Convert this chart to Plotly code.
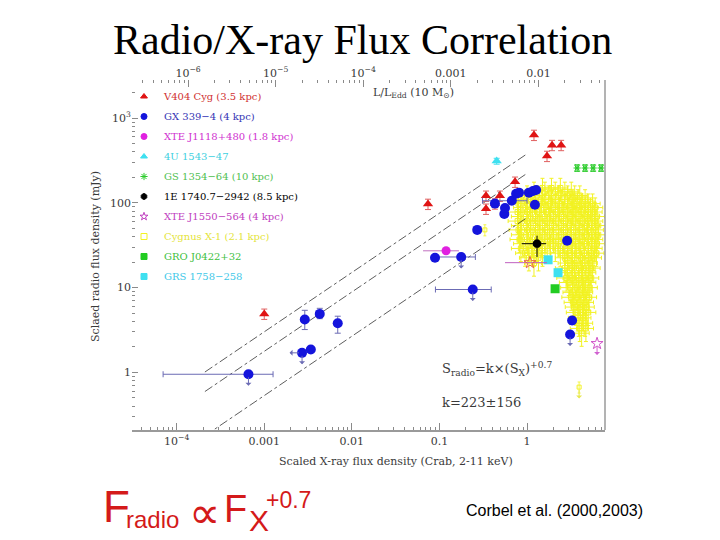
import numpy as np
import plotly.graph_objects as go

# ---------------- data ----------------
# V404 Cyg (red triangles)
v404_x = [1.0e-3, 0.074, 0.34, 0.49, 0.43, 0.34, 0.73, 1.2, 1.93, 2.45, 1.69]
v404_y = [4.9, 97, 121, 121, 98, 85, 177, 632, 480, 480, 357]

# GX 339-4 (blue circles)
gx_x = [6.6e-4, 2.9e-3, 4.3e-3, 6.9e-3, 2.7e-3, 3.4e-3, 0.089, 0.177, 0.24, 0.27,
        0.43, 0.55, 0.56, 0.67, 0.75, 0.81, 1.05, 1.17, 1.27, 1.23, 2.87, 3.27, 3.1]
gx_y = [0.95, 4.2, 4.9, 3.8, 1.7, 1.86, 22.5, 23, 9.5, 48,
        98, 74, 87, 106, 128, 132, 132, 138, 142, 95, 35.7, 4.1, 2.8]
gx_xerr_plus = [6.0e-4, 0, 0, 0, 0, 0, 0, 0.08, 0.15, 0,
                0, 0, 0, 0.33, 0, 0, 0, 0, 0, 0, 0, 0, 0]
gx_xerr_minus = [5.9e-4, 0, 0, 0, 0, 0, 0, 0.088, 0.15, 0,
                 0, 0, 0, 0.36, 0, 0, 0, 0, 0, 0, 0, 0, 0]
gx_yerr_plus = [0, 1.2, 0.8, 0.8, 0, 0, 0, 0, 0, 0,
                0, 0, 0, 0, 0, 0, 0, 0, 0, 0, 0, 0.4, 0]
gx_yerr_minus = [0, 1.0, 0.6, 0.9, 0, 0, 0, 0, 0, 0,
                 0, 0, 0, 0, 0, 0, 0, 0, 0, 0, 0, 0.4, 0]
gx_upper = [1, 0, 0, 0, 1, 0, 0, 1, 1, 0, 0, 0, 0, 0, 0, 0, 0, 0, 0, 0, 0, 0, 1]
gx_left = [0, 0, 0, 0, 1, 0, 0, 0, 0, 0, 0, 0, 0, 0, 0, 0, 0, 0, 0, 0, 0, 0, 0]

# XTE J1118+480
j1118_x = [0.119]
j1118_y = [27.2]
j1118_xerr_plus = [0.048]
j1118_xerr_minus = [0.054]

# 4U 1543-47
u1543_x = [0.45]
u1543_y = [311]

# GS 1354-64
gs_x = [3.73, 4.6, 5.68, 7.0]
gs_y = [258, 258, 258, 258]

# 1E 1740.7-2942
e1740_x = [1.30]
e1740_y = [33]
e1740_xerr_plus = [0.35]
e1740_xerr_minus = [0.43]
e1740_yerr_plus = [8]
e1740_yerr_minus = [10]

# XTE J1550-564
j1550_x = [1.08, 6.3]
j1550_y = [19.7, 2.19]
j1550_xerr_plus = [0.61, 0]
j1550_xerr_minus = [0.52, 0]
j1550_upper = [0, 1]

# Cygnus X-1 (cloud of measurements, read row by row)
cyg_x = [1.5, 1.9, 2.4,
         1.2, 1.6, 2.1, 2.7, 3.2,
         1.0, 1.3, 1.75, 2.3, 2.9, 3.5, 4.0,
         0.85, 1.1, 1.45, 1.9, 2.5, 3.1, 3.8, 4.6,
         0.8, 1.0, 1.25, 1.6, 2.1, 2.7, 3.4, 4.2, 5.0, 5.6,
         0.9, 1.15, 1.45, 1.85, 2.35, 3.0, 3.7, 4.6, 5.3, 6.0,
         0.78, 1.0, 1.3, 1.65, 2.1, 2.6, 3.3, 4.1, 5.0, 5.9,
         0.85, 1.1, 1.4, 1.8, 2.3, 2.9, 3.6, 4.5, 5.5, 6.3,
         0.78, 1.0, 1.25, 1.6, 2.0, 2.6, 3.2, 4.0, 4.9, 6.0,
         0.85, 1.1, 1.4, 1.8, 2.3, 2.9, 3.6, 4.5, 5.5, 6.5,
         0.8, 1.0, 1.25, 1.6, 2.0, 2.6, 3.2, 4.0, 5.0, 6.1,
         0.85, 1.1, 1.4, 1.8, 2.3, 2.9, 3.6, 4.5, 5.5, 6.5,
         0.82, 1.0, 1.3, 1.6, 2.0, 2.6, 3.2, 4.0, 5.0, 6.0,
         0.9, 1.15, 1.45, 1.85, 2.3, 2.9, 3.6, 4.5, 5.5, 6.3,
         0.85, 1.05, 1.3, 1.7, 2.1, 2.7, 3.3, 4.1, 5.0, 5.9,
         0.95, 1.2, 1.5, 2.4, 3.0, 3.7, 4.5, 5.4, 6.2,
         1.05, 1.35, 2.7, 3.3, 4.1, 5.0, 5.8,
         1.2, 2.9, 3.5, 4.3, 5.2,
         2.7, 3.2, 3.9, 4.7, 5.6,
         2.9, 3.5, 4.2, 5.0,
         2.8, 3.3, 3.9, 4.6, 5.4,
         3.0, 3.6, 4.3, 5.0,
         3.1, 3.7, 4.4, 5.2,
         3.3, 3.9, 4.6,
         3.2, 3.8, 4.5, 5.1,
         3.4, 4.0, 4.7,
         3.5, 4.1, 4.8,
         3.6, 4.3, 5.0,
         3.8, 4.4,
         3.9, 4.6,
         4.0, 4.7,
         4.2]
cyg_y = [150, 150, 150,
         135, 135, 135, 135, 135,
         122, 122, 122, 122, 122, 122, 122,
         110, 110, 110, 110, 110, 110, 110, 110,
         98, 98, 98, 98, 98, 98, 98, 98, 98, 98,
         88, 88, 88, 88, 88, 88, 88, 88, 88, 88,
         78, 78, 78, 78, 78, 78, 78, 78, 78, 78,
         69, 69, 69, 69, 69, 69, 69, 69, 69, 69,
         61, 61, 61, 61, 61, 61, 61, 61, 61, 61,
         54, 54, 54, 54, 54, 54, 54, 54, 54, 54,
         48, 48, 48, 48, 48, 48, 48, 48, 48, 48,
         42, 42, 42, 42, 42, 42, 42, 42, 42, 42,
         37, 37, 37, 37, 37, 37, 37, 37, 37, 37,
         33, 33, 33, 33, 33, 33, 33, 33, 33, 33,
         29, 29, 29, 29, 29, 29, 29, 29, 29, 29,
         25.5, 25.5, 25.5, 25.5, 25.5, 25.5, 25.5, 25.5, 25.5,
         22.5, 22.5, 22.5, 22.5, 22.5, 22.5, 22.5,
         19.5, 19.5, 19.5, 19.5, 19.5,
         17, 17, 17, 17, 17,
         15, 15, 15, 15,
         13, 13, 13, 13, 13,
         11.5, 11.5, 11.5, 11.5,
         10, 10, 10, 10,
         8.8, 8.8, 8.8,
         7.7, 7.7, 7.7, 7.7,
         6.7, 6.7, 6.7,
         5.9, 5.9, 5.9,
         5.1, 5.1, 5.1,
         4.4, 4.4,
         3.8, 3.8,
         3.3, 3.3,
         2.9]
cyg_extra_x = [0.33, 3.93]
cyg_extra_y = [48, 0.67]
cyg_extra_upper = [0, 1]

# GRO J0422+32
gro_x = [2.09]
gro_y = [9.7]

# GRS 1758-258
grs_x = [1.74, 2.26]
grs_y = [21.3, 15]

# fit: S_radio = k * S_X^0.7, k = 223 +/- 156
fit_k = [223 + 156, 223, 223 - 156]
fit_index = 0.7
fit_xrange = [2.1e-4, 1.0]

# axis ticks
x_tickvals = [1e-4, 1e-3, 1e-2, 1e-1, 1]
x_ticktext = ["10<sup>−4</sup>", "0.001", "0.01", "0.1", "1"]
x2_tickvals = [1e-6, 1e-5, 1e-4, 1e-3, 1e-2]
x2_ticktext = ["10<sup>−6</sup>", "10<sup>−5</sup>", "10<sup>−4</sup>", "0.001", "0.01"]
y_tickvals = [1, 10, 100, 1000]
y_ticktext = ["1", "10", "100", "10<sup>3</sup>"]
edd_offset_log = -2.13  # log10(L/LEdd) - log10(S_X)

# legend entries: (label, text colour, marker symbol, marker colour)
legend_items = [
    ("V404 Cyg (3.5 kpc)", "#d03030", "triangle-up", "#e01414"),
    ("GX 339−4 (4 kpc)", "#3434b4", "circle", "#1414dc"),
    ("XTE J1118+480 (1.8 kpc)", "#d030d0", "circle", "#e020e0"),
    ("4U 1543−47", "#40d0e0", "triangle-up", "#3ee0f0"),
    ("GS 1354−64 (10 kpc)", "#50c050", "asterisk-open", "#2ccc2c"),
    ("1E 1740.7−2942 (8.5 kpc)", "black", "octagon", "black"),
    ("XTE J1550−564 (4 kpc)", "#c040c0", "star-open", "#c040c0"),
    ("Cygnus X-1 (2.1 kpc)", "#e4e43a", "square-open", "#f2f222"),
    ("GRO J0422+32", "#40c040", "square", "#22cc22"),
    ("GRS 1758−258", "#40c8e8", "square", "#3ee0f0"),
]

# ---------------- layout helpers ----------------
L, R, T, B = 132, 605, 80, 430
W, H = R - L, B - T


def pxx(p):
    return (p - L) / W


def pxy(p):
    return (B - p) / H


SERIF = "DejaVu Serif"
BLUE = "#1414dc"
BLUE_ERR = "#6b6bb4"
RED = "#e01414"
MAG = "#e020e0"
CYAN = "#3ee0f0"
GREEN = "#2ccc2c"
YEL = "#f2f222"

fig = go.Figure()

# Cygnus X-1 cloud first (underneath)
fig.add_trace(go.Scatter(
    x=cyg_x, y=cyg_y, mode="markers",
    marker=dict(symbol="square-open", size=5, color=YEL, line=dict(width=1)),
    error_x=dict(type="percent", value=22, color=YEL, thickness=1, width=2),
    error_y=dict(type="percent", value=30, color=YEL, thickness=1, width=2),
    showlegend=False))
fig.add_trace(go.Scatter(
    x=cyg_extra_x, y=cyg_extra_y, mode="markers",
    marker=dict(symbol="square-open", size=4, color=YEL),
    error_y=dict(type="percent", value=15, color=YEL, thickness=0.8, width=1.5),
    showlegend=False))

# fit lines
for k in fit_k:
    xs = np.array(fit_xrange)
    fig.add_trace(go.Scatter(
        x=xs, y=k * xs ** fit_index, mode="lines",
        line=dict(color="#333333", width=0.8, dash="dashdot"),
        showlegend=False, hoverinfo="skip"))

# V404 Cyg
fig.add_trace(go.Scatter(
    x=v404_x, y=v404_y, mode="markers",
    marker=dict(symbol="triangle-up", size=9, color=RED),
    error_y=dict(type="percent", value=14, color="#e06060", thickness=1, width=3),
    showlegend=False))

# GX 339-4
fig.add_trace(go.Scatter(
    x=gx_x, y=gx_y, mode="markers",
    marker=dict(symbol="circle", size=10, color=BLUE),
    error_x=dict(type="data", symmetric=False, array=gx_xerr_plus,
                 arrayminus=gx_xerr_minus, color=BLUE_ERR, thickness=1, width=3),
    error_y=dict(type="data", symmetric=False, array=gx_yerr_plus,
                 arrayminus=gx_yerr_minus, color=BLUE_ERR, thickness=1, width=3),
    showlegend=False))

# XTE J1118+480
fig.add_trace(go.Scatter(
    x=j1118_x, y=j1118_y, mode="markers",
    marker=dict(symbol="circle", size=9, color=MAG),
    error_x=dict(type="data", symmetric=False, array=j1118_xerr_plus,
                 arrayminus=j1118_xerr_minus, color="#c070c0", thickness=1, width=0),
    showlegend=False))

# 4U 1543-47
fig.add_trace(go.Scatter(
    x=u1543_x, y=u1543_y, mode="markers",
    marker=dict(symbol="triangle-up", size=9, color=CYAN),
    error_y=dict(type="percent", value=8, color=CYAN, thickness=1, width=3),
    showlegend=False))

# GS 1354-64
fig.add_trace(go.Scatter(
    x=gs_x, y=gs_y, mode="markers",
    marker=dict(symbol="asterisk-open", size=6, color=GREEN, line=dict(width=1, color=GREEN)),
    error_x=dict(type="percent", value=4, color=GREEN, thickness=0.8, width=4),
    error_y=dict(type="percent", value=9, color=GREEN, thickness=0.8, width=3),
    showlegend=False))

# GRO J0422+32
fig.add_trace(go.Scatter(
    x=gro_x, y=gro_y, mode="markers",
    marker=dict(symbol="square", size=9, color="#22cc22"),
    showlegend=False))

# GRS 1758-258
fig.add_trace(go.Scatter(
    x=grs_x, y=grs_y, mode="markers",
    marker=dict(symbol="square", size=9, color=CYAN),
    showlegend=False))

# XTE J1550-564
fig.add_trace(go.Scatter(
    x=j1550_x, y=j1550_y, mode="markers",
    marker=dict(symbol="star-open", size=9, color=["#e8604a", "#d050c8"], line=dict(width=1)),
    error_x=dict(type="data", symmetric=False, array=j1550_xerr_plus,
                 arrayminus=j1550_xerr_minus, color="#c060c0", thickness=1, width=0),
    showlegend=False))

# 1E 1740.7-2942
fig.add_trace(go.Scatter(
    x=e1740_x, y=e1740_y, mode="markers",
    marker=dict(symbol="octagon", size=9, color="black"),
    error_x=dict(type="data", symmetric=False, array=e1740_xerr_plus,
                 arrayminus=e1740_xerr_minus, color="black", thickness=1, width=0),
    error_y=dict(type="data", symmetric=False, array=e1740_yerr_plus,
                 arrayminus=e1740_yerr_minus, color="black", thickness=1, width=0),
    showlegend=False))

# legend-only entries (small symbols, coloured text)
for i, (name, tcol, sym, mcol) in enumerate(legend_items):
    fig.add_trace(go.Scatter(
        x=[None], y=[None], mode="markers",
        marker=dict(symbol=sym, size=6, color=mcol, line=dict(width=1, color=mcol)),
        name=f"<span style='color:{tcol}'>{name}</span>",
        legendgroup=f"g{i}", legendrank=i + 1, showlegend=True))

# dummy trace to activate the top (L/LEdd) axis
fig.add_trace(go.Scatter(x=[], y=[], xaxis="x2", yaxis="y", showlegend=False))

annotations = []


def upper_arrow(x, y, color, dx=0, dy=13):
    annotations.append(dict(
        x=np.log10(x), y=np.log10(y), xref="x", yref="y", text="",
        showarrow=True, ax=dx, ay=dy, arrowside="start", arrowhead=2,
        arrowsize=1.1, arrowwidth=1, arrowcolor=color, standoff=3))


for xv, yv, u, lft in zip(gx_x, gx_y, gx_upper, gx_left):
    if u:
        upper_arrow(xv, yv, BLUE_ERR)
    if lft:
        upper_arrow(xv, yv, BLUE_ERR, dx=-14, dy=0)
for xv, yv, u in zip(j1550_x, j1550_y, j1550_upper):
    if u:
        upper_arrow(xv, yv, "#d060d0")
for xv, yv, u in zip(cyg_extra_x, cyg_extra_y, cyg_extra_upper):
    if u:
        upper_arrow(xv, yv, "#e8e850")

TXT = "#3a3a3a"
# in-plot formula
annotations.append(dict(
    x=pxx(440), y=pxy(369), xref="paper", yref="paper", xanchor="left", yanchor="middle",
    text="S<sub>radio</sub>=k×(S<sub>X</sub>)<sup>+0.7</sup>", showarrow=False,
    font=dict(family=SERIF, size=13, color=TXT)))
annotations.append(dict(
    x=pxx(440), y=pxy(402), xref="paper", yref="paper", xanchor="left", yanchor="middle",
    text="k=223±156", showarrow=False, font=dict(family=SERIF, size=13, color=TXT)))
# top axis title (inside the frame)
annotations.append(dict(
    x=pxx(413), y=pxy(93), xref="paper", yref="paper", xanchor="center", yanchor="middle",
    text="L/L<sub>Edd</sub> (10 M<sub>⊙</sub>)", showarrow=False,
    font=dict(family=SERIF, size=11, color=TXT)))
# axis titles
annotations.append(dict(
    x=pxx(396), y=pxy(461), xref="paper", yref="paper", xanchor="center", yanchor="middle",
    text="Scaled X-ray flux density (Crab, 2-11 keV)", showarrow=False,
    font=dict(family=SERIF, size=11, color=TXT)))
annotations.append(dict(
    x=pxx(95), y=pxy(257), xref="paper", yref="paper", xanchor="center", yanchor="middle",
    text="Sclaed radio flux density (mJy)", showarrow=False, textangle=-90,
    font=dict(family=SERIF, size=11, color=TXT)))
# slide title
annotations.append(dict(
    x=pxx(362), y=pxy(40), xref="paper", yref="paper", xanchor="center", yanchor="middle",
    text="Radio/X-ray Flux Correlation", showarrow=False,
    font=dict(family="Liberation Serif", size=42, color="black")))
# formula below the chart
SANS = "Liberation Sans"
FRED = "#d41a1a"
for txt, xl, yc, sz in [("F", 101, 506, 44), ("radio", 124, 519, 24), ("∝", 187, 512, 44),
                        ("F", 222, 509, 38), ("X", 247, 520, 30), ("+0.7", 264, 500, 23)]:
    annotations.append(dict(
        x=pxx(xl), y=pxy(yc), xref="paper", yref="paper", xanchor="left", yanchor="middle",
        text=txt, showarrow=False, font=dict(family=SANS, size=sz, color=FRED)))
annotations.append(dict(
    x=pxx(464), y=pxy(510), xref="paper", yref="paper", xanchor="left", yanchor="middle",
    text="Corbel et al. (2000,2003)", showarrow=False,
    font=dict(family=SANS, size=16, color="black")))

xmin_log, xmax_log = -4.51, 0.89
ymin_log, ymax_log = -0.68, 3.45


def minor_vals(e0, e1):
    return [m * 10.0 ** e for e in range(e0, e1) for m in range(2, 10)]


AX = "#8a8a8a"
fig.update_layout(
    width=720, height=540,
    margin=dict(l=L, r=720 - R, t=T, b=540 - B),
    paper_bgcolor="white", plot_bgcolor="white",
    showlegend=True,
    legend=dict(x=pxx(124), y=pxy(82), xanchor="left", yanchor="top",
                font=dict(family=SERIF, size=10), bgcolor="rgba(0,0,0,0)",
                tracegroupgap=1, itemsizing="trace", itemwidth=30),
    xaxis=dict(type="log", range=[xmin_log, xmax_log], showgrid=False, zeroline=False,
               showline=True, linecolor="#9a9a9a", linewidth=1.5,
               ticks="inside", ticklen=7, tickcolor=AX, tickwidth=1,
               tickmode="array", tickvals=x_tickvals, ticktext=x_ticktext,
               tickfont=dict(family=SERIF, size=11, color=TXT),
               minor=dict(ticks="inside", ticklen=3, tickcolor=AX, tickmode="array",
                          tickvals=minor_vals(-5, 1), showgrid=False)),
    xaxis2=dict(type="log", overlaying="x", side="top", anchor="y",
                range=[xmin_log + edd_offset_log, xmax_log + edd_offset_log],
                showgrid=False, zeroline=False, showline=False,
                ticks="inside", ticklen=7, tickcolor=AX,
                tickmode="array", tickvals=x2_tickvals, ticktext=x2_ticktext,
                tickfont=dict(family=SERIF, size=11, color=TXT),
                minor=dict(ticks="inside", ticklen=3, tickcolor=AX, tickmode="array",
                           tickvals=minor_vals(-7, -1), showgrid=False)),
    yaxis=dict(type="log", range=[ymin_log, ymax_log], showgrid=False, zeroline=False,
               showline=False, ticks="inside", ticklen=6, tickcolor=AX,
               tickmode="array", tickvals=y_tickvals, ticktext=y_ticktext,
               tickfont=dict(family=SERIF, size=11, color=TXT),
               minor=dict(ticks="inside", ticklen=3, tickcolor=AX, tickmode="array",
                          tickvals=minor_vals(-1, 4), showgrid=False)),
    annotations=annotations,
    shapes=[dict(type="line", xref="paper", yref="paper", x0=1, x1=1, y0=0, y1=1,
                 line=dict(color="#9a9a9a", width=1.5))],
)

fig.write_html("out.html")
